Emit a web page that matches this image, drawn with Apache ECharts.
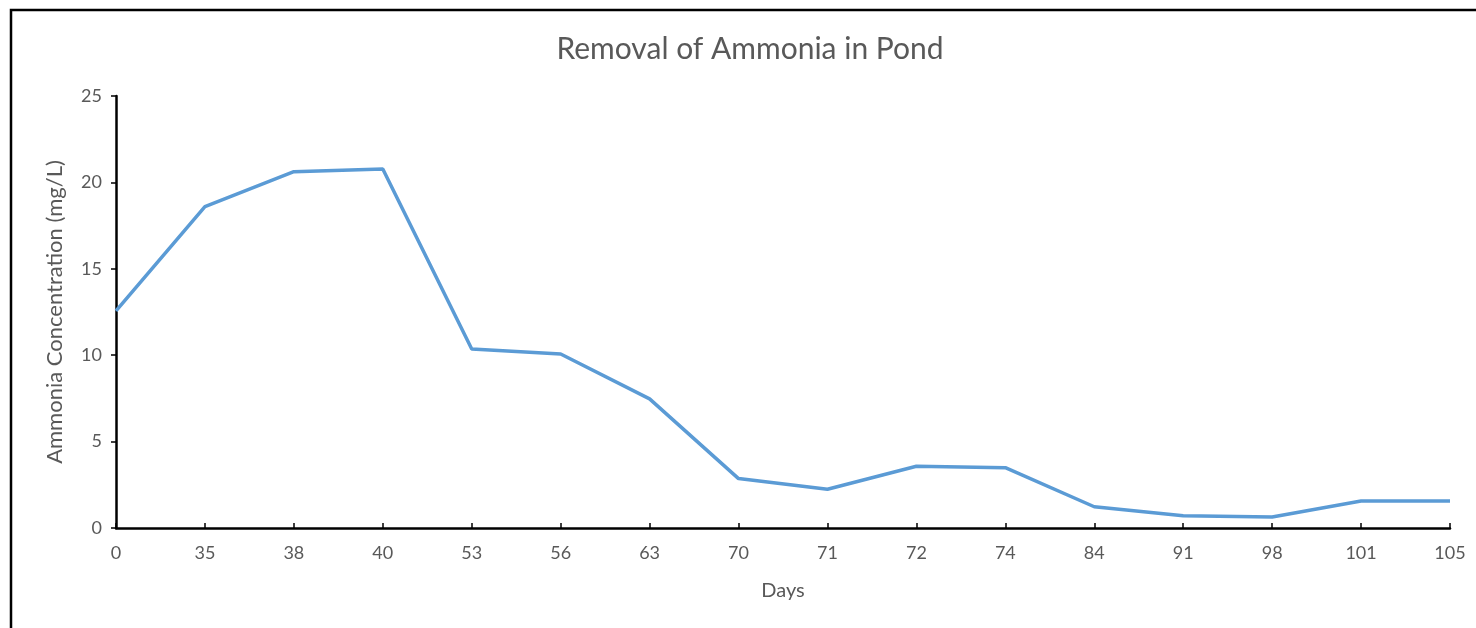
<!DOCTYPE html>
<html>
<head>
<meta charset="utf-8">
<script src="https://cdn.jsdelivr.net/npm/echarts@6/dist/echarts.min.js"></script>
<style>
html,body{margin:0;padding:0;background:#fff;}
#chart{width:1476px;height:628px;}
</style>
</head>
<body>
<div id="chart"></div>
<script>
const titleText = 'Removal of Ammonia in Pond';
const xAxisName = 'Days';
const yAxisName = 'Ammonia Concentration (mg/L)';
const days = ['0','35','38','40','53','56','63','70','71','72','74','84','91','98','101','105'];
const ammonia = [12.56, 18.6, 20.62, 20.78, 10.36, 10.07, 7.47, 2.86, 2.24, 3.57, 3.49, 1.23, 0.71, 0.64, 1.56, 1.56];

const chart = echarts.init(document.getElementById('chart'));
const font = 'Lato, "Open Sans", sans-serif';
chart.setOption({
  animation: false,
  backgroundColor: '#fff',
  graphic: [{
    type: 'rect',
    shape: {x: 11, y: 10, width: 1500, height: 700},
    style: {fill: 'none', stroke: '#000', lineWidth: 2.5},
    silent: true
  }],
  title: {
    text: titleText,
    left: 745, top: 29, textAlign: 'center',
    textStyle: {fontFamily: font, fontSize: 30, fontWeight: 'normal', color: '#595959'}
  },
  grid: {left: 116, right: 26, top: 96, bottom: 100, containLabel: false},
  xAxis: {
    type: 'category',
    data: days,
    boundaryGap: false,
    name: xAxisName,
    nameLocation: 'middle',
    nameGap: 53,
    nameTextStyle: {fontFamily: font, fontSize: 20, color: '#595959'},
    axisLine: {lineStyle: {color: '#000', width: 2.5}},
    axisTick: {inside: true, length: 5, lineStyle: {color: '#000', width: 1.5}, alignWithLabel: true},
    axisLabel: {fontFamily: font, fontSize: 18, color: '#595959', margin: 16},
    splitLine: {show: false}
  },
  yAxis: {
    type: 'value',
    min: 0, max: 25, interval: 5,
    name: yAxisName,
    nameLocation: 'middle',
    nameGap: 50,
    nameTextStyle: {fontFamily: font, fontSize: 22, color: '#595959'},
    axisLine: {show: true, lineStyle: {color: '#000', width: 2.5}},
    axisTick: {show: true, length: 5, lineStyle: {color: '#000', width: 1.5}},
    axisLabel: {fontFamily: font, fontSize: 18, color: '#595959', margin: 14},
    splitLine: {show: false}
  },
  series: [{
    type: 'line',
    data: ammonia,
    showSymbol: false,
    symbol: 'none',
    lineStyle: {color: '#5B9BD5', width: 3.5},
    itemStyle: {color: '#5B9BD5'}
  }]
});
</script>
</body>
</html>
